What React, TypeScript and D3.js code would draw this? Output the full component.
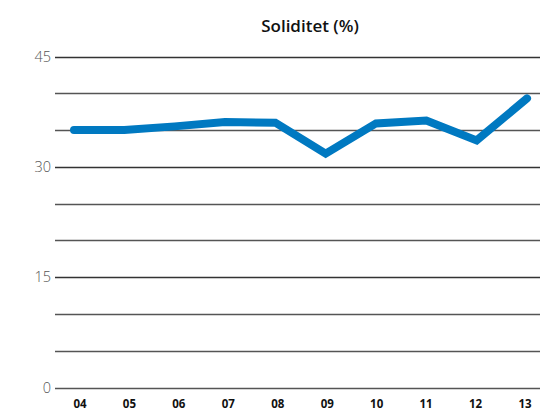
import React from "react";
import * as d3 from "d3";

const years = ["04", "05", "06", "07", "08", "09", "10", "11", "12", "13"];
const soliditet = [35.0, 35.0, 35.5, 36.1, 36.0, 31.8, 35.9, 36.3, 33.6, 39.3];
const gridValues = [0, 5, 10, 15, 20, 25, 30, 35, 40, 45];
const tickLabels = [0, 15, 30, 45];
const title = "Soliditet (%)";

export default function App() {
  const W = 540;
  const H = 410;
  const y = d3.scaleLinear().domain([0, 45]).range([387.5, 56.5]);
  const x = d3.scalePoint<string>().domain(years).range([74, 527]);
  const xLabel = d3.scalePoint<string>().domain(years).range([80, 525]);
  const line = d3
    .line<number>()
    .x((_, i) => x(years[i]) as number)
    .y((d) => y(d));

  return (
    <svg
      width={W}
      height={H}
      style={{ position: "fixed", left: 0, top: 0, background: "#fff" }}
    >
      <text
        x={310}
        y={32}
        textAnchor="middle"
        fontFamily="'Open Sans', Lato, sans-serif"
        fontWeight={600}
        fontSize={17}
        fill="#111"
      >
        {title}
      </text>
      {gridValues.map((v) => (
        <line
          key={v}
          x1={55}
          x2={540}
          y1={Math.round(y(v)) + 0.5}
          y2={Math.round(y(v)) + 0.5}
          stroke={v % 15 === 0 && v > 0 ? "#333" : "#555"}
          strokeWidth={1.3}
        />
      ))}
      {tickLabels.map((v) => (
        <text
          key={v}
          x={51}
          y={y(v)}
          dy="0.36em"
          textAnchor="end"
          fontFamily="'Open Sans', Lato, sans-serif"
          fontWeight={300}
          fontSize={14.5}
          fill="#555"
        >
          {v}
        </text>
      ))}
      {years.map((yr) => (
        <text
          key={yr}
          x={xLabel(yr) as number}
          y={408}
          textAnchor="middle"
          fontFamily="'Open Sans', Lato, sans-serif"
          fontWeight={700}
          fontSize={11.5}
          fill="#111"
        >
          {yr}
        </text>
      ))}
      <path
        d={line(soliditet) || ""}
        fill="none"
        stroke="#0079C1"
        strokeWidth={8}
        strokeLinecap="round"
        strokeLinejoin="miter"
      />
    </svg>
  );
}
